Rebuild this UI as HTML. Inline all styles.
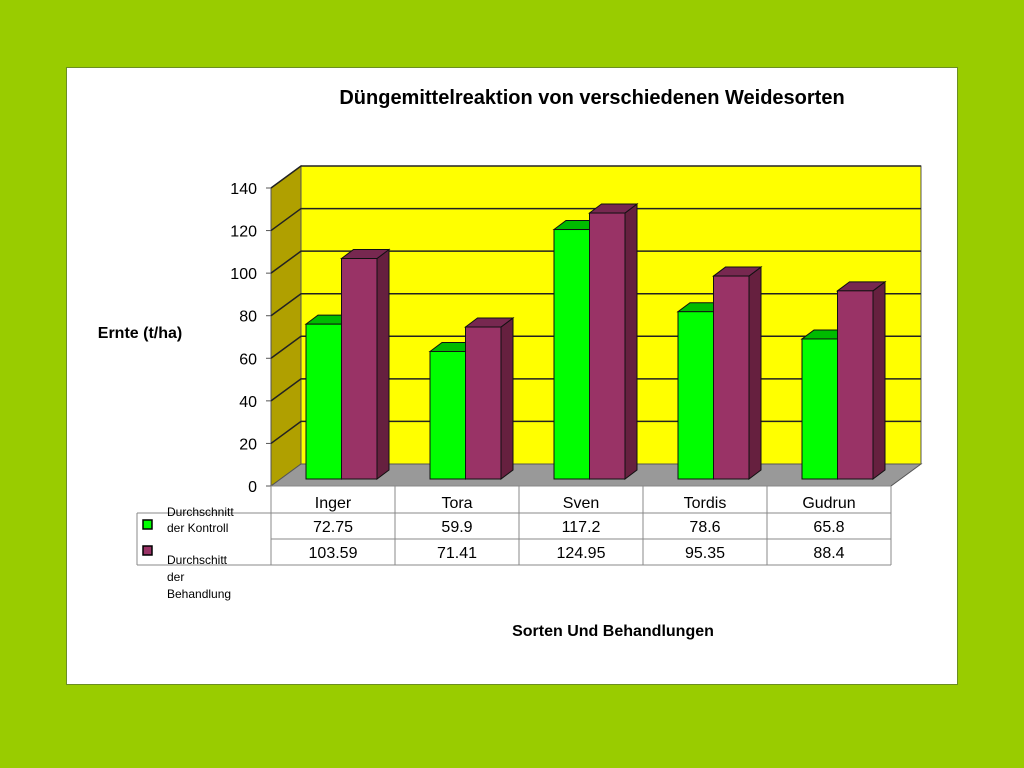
<!DOCTYPE html>
<html><head><meta charset="utf-8"><style>
html,body{margin:0;padding:0;background:#99cc00;width:1024px;height:768px;overflow:hidden}
svg{display:block;font-family:"Liberation Sans",sans-serif}
</style></head><body>
<svg id="c" width="1024" height="768">
<rect x="0" y="0" width="1024" height="768" fill="#99cc00"/>
<rect x="66.5" y="67.5" width="891" height="617" fill="#fff" stroke="#6b8e23" stroke-width="1"/>
<text x="592" y="104" text-anchor="middle" font-size="20" font-weight="bold">Düngemittelreaktion von verschiedenen Weidesorten</text>
<text x="140" y="338" text-anchor="middle" font-size="16" font-weight="bold">Ernte (t/ha)</text>
<text x="613" y="636" text-anchor="middle" font-size="16" font-weight="bold">Sorten Und Behandlungen</text>
<g id="plot"></g>
</svg>
<script>
const categories = ["Inger","Tora","Sven","Tordis","Gudrun"];
const control = [72.75,59.9,117.2,78.6,65.8];
const treatment = [103.59,71.41,124.95,95.35,88.4];
const controlLabels = ["72.75","59.9","117.2","78.6","65.8"];
const treatmentLabels = ["103.59","71.41","124.95","95.35","88.4"];
const ticks = [0,20,40,60,80,100,120,140];

const NS="http://www.w3.org/2000/svg";
const g=document.getElementById('plot');
function mk(t,a,p){const e=document.createElementNS(NS,t);for(const k in a)e.setAttribute(k,a[k]);(p||g).appendChild(e);return e;}
const X0=271,X1=891,Y0=486,DX=30,DY=-22,K=298/140;
const yF=v=>Y0-v*K;
// walls
let e=mk('polygon',{points:`${X0},${yF(140)} ${X0+DX},${yF(140)+DY} ${X0+DX},${Y0+DY} ${X0},${Y0}`,fill:'#b0a000',stroke:'#555','stroke-width':1});


e=mk('rect',{x:X0+DX,y:yF(140)+DY,width:X1-X0,height:140*K,fill:'#ffff00',stroke:'#555','stroke-width':1});


e=mk('polygon',{points:`${X0},${Y0} ${X0+DX},${Y0+DY} ${X1+DX},${Y0+DY} ${X1},${Y0}`,fill:'#999',stroke:'#555','stroke-width':1});


ticks.forEach(t=>{
 const y=yF(t);
 if(t>0){
 e=mk('polyline',{points:`${X0},${y} ${X0+DX},${y+DY} ${X1+DX},${y+DY}`,fill:'none',stroke:'#222','stroke-width':1.5});
 
 
 }
 e=mk('line',{x1:X0-5,y1:y,x2:X0,y2:y,stroke:'#555'});
 
 
 e=mk('text',{x:X0-14,y:y+6,'text-anchor':'end','font-size':16});
 e.textContent=t;
 
 
});
const CW=(X1-X0)/categories.length, BW=35.5, BD=12, BDY=-9, BY=479;
function bar(i,v,off,front,top,side,name){
 const x=X0+i*CW+35+off*BW, y=BY-v*K;
 const gg=mk('g',{});
 
 
 mk('polygon',{points:`${x+BW},${y} ${x+BW+BD},${y+BDY} ${x+BW+BD},${BY+BDY} ${x+BW},${BY}`,fill:side,stroke:'#111'},gg);
 mk('polygon',{points:`${x},${y} ${x+BD},${y+BDY} ${x+BW+BD},${y+BDY} ${x+BW},${y}`,fill:top,stroke:'#111'},gg);
 mk('rect',{x:x,y:y,width:BW,height:BY-y,fill:front,stroke:'#111'},gg);
}
categories.forEach((c,i)=>{
 bar(i,control[i],0,'#00ff00','#00bb00','#009900','bar-control-'+c.toLowerCase());
 bar(i,treatment[i],1,'#993366','#772850','#66203f','bar-treatment-'+c.toLowerCase());
});
// table
const rows=[486,513,539,565];
[[X0,486,X1,486],[X0,513,X1,513],[X0,539,X1,539],[X0,565,X1,565],[X0,486,X0,565],[X1,486,X1,565],[137,513,X0,513],[137,565,X0,565],[137,513,137,565]].forEach(l=>{
 e=mk('line',{x1:l[0],y1:l[1],x2:l[2],y2:l[3],stroke:'#888'});
 
 
});
categories.forEach((c,i)=>{
 const cx=X0+i*CW+CW/2;
 if(i>0){e=mk('line',{x1:X0+i*CW,y1:486,x2:X0+i*CW,y2:565,stroke:'#888'});
 
 }
 e=mk('text',{x:cx,y:508,'text-anchor':'middle','font-size':16});e.textContent=c;
 
 
 e=mk('text',{x:cx,y:532,'text-anchor':'middle','font-size':16});e.textContent=controlLabels[i];
 
 
 e=mk('text',{x:cx,y:558,'text-anchor':'middle','font-size':16});e.textContent=treatmentLabels[i];
 
 
});
// legend
e=mk('rect',{x:143,y:520,width:9,height:9,fill:'#00ff00',stroke:'#000','stroke-width':1.5});


e=mk('rect',{x:143,y:546,width:9,height:9,fill:'#993366',stroke:'#000','stroke-width':1.5});


[["Durchschnitt",516],["der Kontroll",532]].forEach(t=>{e=mk('text',{x:167,y:t[1],'font-size':12});e.textContent=t[0];
 
 });
[["Durchschitt",564],["der",581],["Behandlung",598]].forEach(t=>{e=mk('text',{x:167,y:t[1],'font-size':12});e.textContent=t[0];
 
 });
</script>
</body></html>
